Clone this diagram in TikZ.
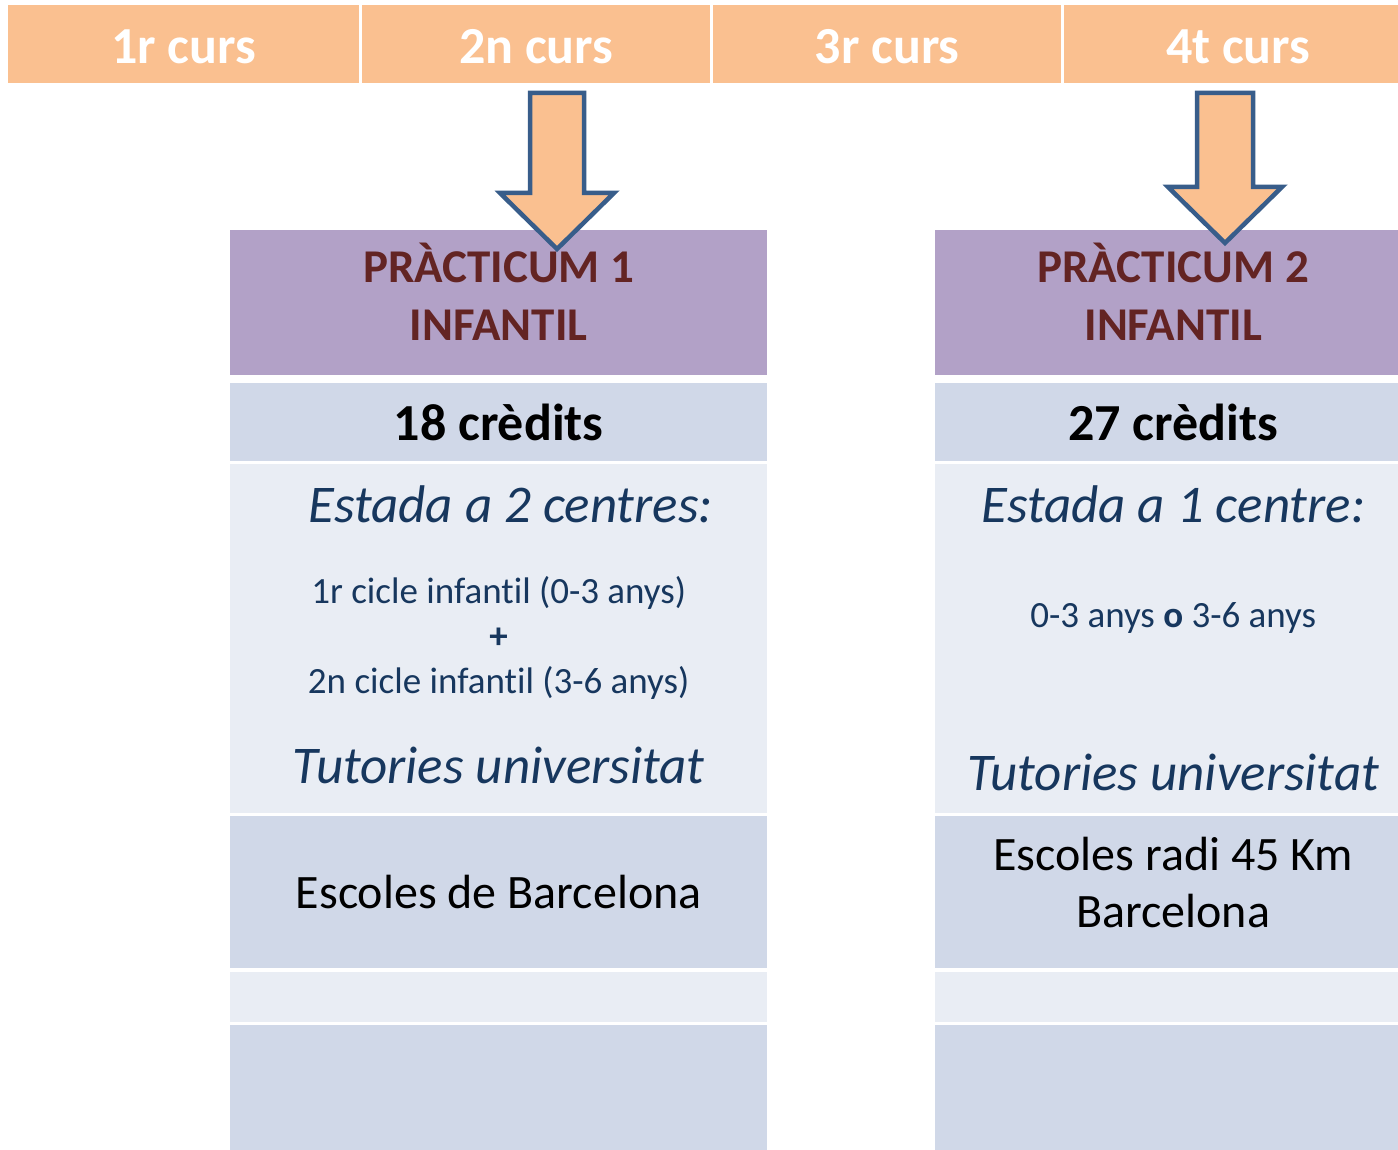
\documentclass[tikz,border=0pt]{standalone}
\usepackage{fontspec}
\setmainfont{Carlito}[RawFeature={-liga;-dlig;-calt}]
\usetikzlibrary{positioning}

\definecolor{cursfill}{HTML}{FAC090}
\definecolor{titlefill}{HTML}{B2A1C7}
\definecolor{rowdark}{HTML}{D0D8E8}
\definecolor{rowlight}{HTML}{E9EDF4}
\definecolor{titletext}{HTML}{632423}
\definecolor{bodytext}{HTML}{17375E}
\definecolor{arrowline}{HTML}{385D8A}

\tikzset{
    cell/.style={draw=none, inner sep=0pt, anchor=north west},
    cursbox/.style={cell, fill=cursfill, minimum width=#1, minimum height=78pt},
    rowbox/.style={cell, minimum width=#1},
    curslbl/.style={anchor=base, text=white, font=\bfseries\fontsize{52}{60}\selectfont},
    titlelbl/.style={anchor=base, align=center, text=titletext, font=\bfseries\fontsize{47}{58}\selectfont},
    creditlbl/.style={anchor=base, text=black, font=\bfseries\fontsize{52}{60}\selectfont},
    stadalbl/.style={anchor=base, text=bodytext, font=\itshape\fontsize{53}{60}\selectfont},
    ciclelbl/.style={anchor=base, align=center, text=bodytext, font=\fontsize{37}{45}\selectfont},
    schoollbl/.style={anchor=base, align=center, text=black, font=\fontsize{48}{57}\selectfont},
    blockarrow/.style={fill=cursfill, draw=arrowline, line width=4.5pt, line join=miter}
}

\begin{document}
\begin{tikzpicture}[x=1pt, y=-1pt]
    \useasboundingbox[fill=white] (0,0) rectangle (1398,1150);

    % courses
    \node[cursbox=351pt] (c1) at (8,5) {};
    \node[cursbox=348pt] (c2) at (362,5) {};
    \node[cursbox=348pt] (c3) at (713,5) {};
    \node[cursbox=348pt] (c4) at (1064,5) {};
    \node[curslbl] at (c1.center |- 0,64) {1r curs};
    \node[curslbl] at (c2.center |- 0,64) {2n curs};
    \node[curslbl] at (c3.center |- 0,64) {3r curs};
    \node[curslbl] at (c4.center |- 0,64) {4t curs};

    % practicum 1
    \node[rowbox=537pt, fill=titlefill, minimum height=145pt] (p1title) at (230,230) {};
    \node[rowbox=537pt, fill=rowdark, minimum height=78pt] (p1cred) at (230,383) {};
    \node[rowbox=537pt, fill=rowlight, minimum height=349pt] (p1stay) at (230,464) {};
    \node[rowbox=537pt, fill=rowdark, minimum height=152pt] (p1school) at (230,816) {};
    \node[rowbox=537pt, fill=rowlight, minimum height=50pt] (p1gap) at (230,972) {};
    \node[rowbox=537pt, fill=rowdark, minimum height=126pt] (p1foot) at (230,1025) {};

    \node[titlelbl] at (p1title.center |- 0,341) {PRÀCTICUM 1\\INFANTIL};
    \node[creditlbl] at (p1cred.center |- 0,440) {18 crèdits};
    \node[stadalbl, xshift=12pt] at (p1stay.center |- 0,522) {Estada a 2 centres:};
    \node[ciclelbl] at (p1stay.center |- 0,693) {1r cicle infantil (0-3 anys)\\\textbf{+}\\2n cicle infantil (3-6 anys)};
    \node[stadalbl] at (p1stay.center |- 0,783) {Tutories universitat};
    \node[schoollbl] at (p1school.center |- 0,908) {Escoles de Barcelona};

    % practicum 2
    \node[rowbox=476pt, fill=titlefill, minimum height=145pt] (p2title) at (935,230) {};
    \node[rowbox=476pt, fill=rowdark, minimum height=78pt] (p2cred) at (935,383) {};
    \node[rowbox=476pt, fill=rowlight, minimum height=349pt] (p2stay) at (935,464) {};
    \node[rowbox=476pt, fill=rowdark, minimum height=152pt] (p2school) at (935,816) {};
    \node[rowbox=476pt, fill=rowlight, minimum height=50pt] (p2gap) at (935,972) {};
    \node[rowbox=476pt, fill=rowdark, minimum height=126pt] (p2foot) at (935,1025) {};

    \node[titlelbl] at (p2title.center |- 0,341) {PRÀCTICUM 2\\INFANTIL};
    \node[creditlbl] at (p2cred.center |- 0,440) {27 crèdits};
    \node[stadalbl] at (p2stay.center |- 0,522) {Estada a 1 centre:};
    \node[ciclelbl] at (p2stay.center |- 0,627) {0-3 anys \textbf{o} 3-6 anys};
    \node[stadalbl] at (p2stay.center |- 0,790) {Tutories universitat};
    \node[schoollbl] at (p2school.center |- 0,927) {Escoles radi 45 Km\\Barcelona};

    % arrows
    \draw[blockarrow] (530,93) -- (584,93) -- (584,193) -- (614,193) -- (557,249)
        -- (500,193) -- (530,193) -- cycle;
    \draw[blockarrow] (1197,93) -- (1253,93) -- (1253,187) -- (1282,187) -- (1225,243)
        -- (1168,187) -- (1197,187) -- cycle;

\end{tikzpicture}
\end{document}
